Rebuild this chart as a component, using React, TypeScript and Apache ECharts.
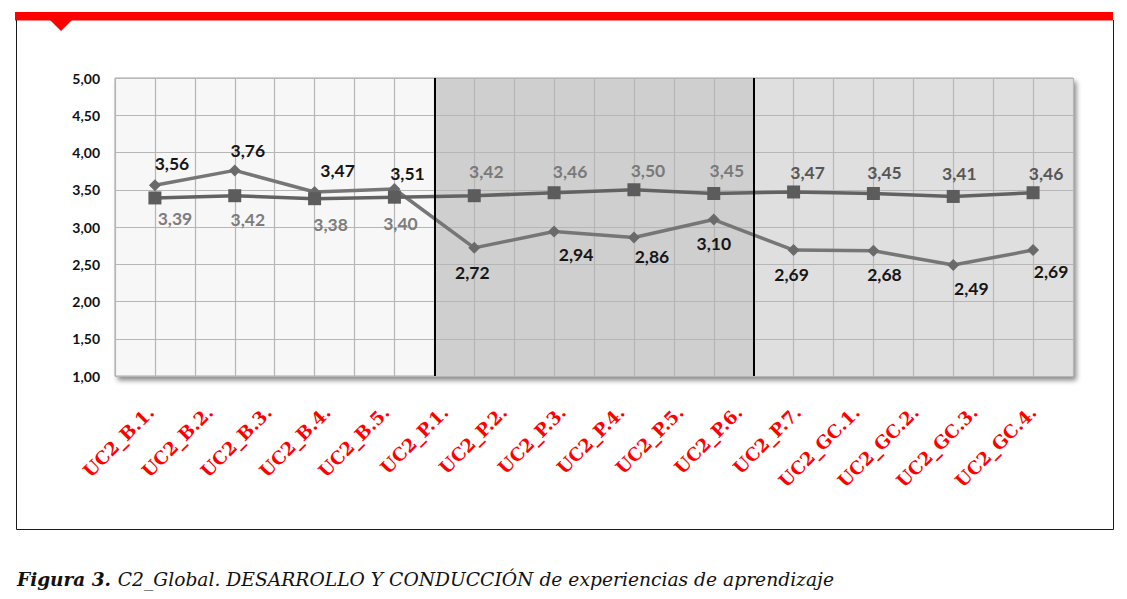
import React, { useEffect, useRef } from 'react';
import * as echarts from 'echarts';

// ---- data ----
const pointIds = ['1', '2', '3', '4', '5', '6', '7', '8', '9', '10', '11', '12'];
const xLabels = [
  'UC2_B.1.', 'UC2_B.2.', 'UC2_B.3.', 'UC2_B.4.', 'UC2_B.5.',
  'UC2_P.1.', 'UC2_P.2.', 'UC2_P.3.', 'UC2_P.4.', 'UC2_P.5.', 'UC2_P.6.', 'UC2_P.7.',
  'UC2_GC.1.', 'UC2_GC.2.', 'UC2_GC.3.', 'UC2_GC.4.',
];
const diamondValues = [3.56, 3.76, 3.47, 3.51, 2.72, 2.94, 2.86, 3.1, 2.69, 2.68, 2.49, 2.69];
const squareValues = [3.39, 3.42, 3.38, 3.4, 3.42, 3.46, 3.5, 3.45, 3.47, 3.45, 3.41, 3.46];
const yMin = 1;
const yMax = 5;
const yStep = 0.5;
const sectionBounds = [0, 4, 8, 12];
const caption = 'C2_Global. DESARROLLO Y CONDUCCIÓN de experiencias de aprendizaje';

// ---- layout / style ----
const sectionColors = ['#f7f7f7', '#cfcfcf', '#dfdfdf'];
const diamondLabelOffset = [
  [17, -22], [13, -20], [23, -21], [13, -16], [-2, 25], [22, 23],
  [18, 19], [0, 24], [-2, 24], [11, 24], [18, 24], [18, 21],
];
const squareLabelOffset = [
  [20, 21], [13, 24], [16, 26], [6, 26], [12, -24], [16, -21],
  [14, -19], [13, -23], [14, -19], [11, -21], [6, -23], [13, -19],
];
const squareLabelColor = ['#7d7d7d', '#7d7d7d', '#7d7d7d', '#7d7d7d', '#7a7a7a', '#7a7a7a',
  '#7a7a7a', '#7a7a7a', '#575757', '#575757', '#575757', '#575757'];

const fmt = (v: number) => v.toFixed(2).replace('.', ',');

export default function App() {
  const ref = useRef<HTMLDivElement>(null);
  useEffect(() => {
    if (!ref.current) return;
    const chart = echarts.init(ref.current, undefined, { renderer: 'svg' });
    const labelFont = { fontFamily: 'Lato', fontWeight: 'bold' as const, fontSize: 17.5 };
    const option: any = {
      animation: false,
      backgroundColor: '#ffffff',
      grid: [
        {
          left: 115, right: 54, top: 78, bottom: 223,
          show: true,
          backgroundColor: sectionColors[0],
          borderColor: '#a8a8a8',
          borderWidth: 1,
          shadowColor: 'rgba(0,0,0,0.45)',
          shadowBlur: 5,
          shadowOffsetX: 3,
          shadowOffsetY: 4,
        },
        { left: 121.5, right: 64.5, top: 78, bottom: 223, show: false },
      ],
      xAxis: [
        {
          type: 'category', gridIndex: 0, data: pointIds, boundaryGap: true,
          axisLine: { show: false }, axisTick: { show: false }, axisLabel: { show: false },
          splitLine: { show: false },
        },
        {
          type: 'category', gridIndex: 1, data: xLabels, boundaryGap: true,
          axisLine: { show: false }, axisTick: { show: false },
          axisLabel: {
            interval: 0, rotate: 45, margin: 33,
            color: '#ff0000', fontFamily: 'DejaVu Serif', fontWeight: 'bold', fontSize: 18,
          },
          splitLine: { show: false },
        },
        {
          type: 'value', gridIndex: 0, min: 0, max: pointIds.length, interval: 0.5, z: 1.5,
          axisLine: { show: false }, axisTick: { show: false }, axisLabel: { show: false },
          splitLine: { show: true, lineStyle: { color: '#b6b6b6', width: 1.2 } },
        },
      ],
      yAxis: [
        {
          type: 'value', gridIndex: 0, min: yMin, max: yMax, interval: yStep, z: 1.5,
          axisLine: { show: false }, axisTick: { show: false },
          axisLabel: {
            formatter: (v: number) => fmt(v), margin: 15, color: '#111',
            fontFamily: 'Lato', fontWeight: 'bold', fontSize: 14,
          },
          splitLine: { show: true, lineStyle: { color: '#b6b6b6', width: 1.2 } },
        },
        { type: 'value', gridIndex: 1, show: false, min: yMin, max: yMax },
      ],
      series: [
        {
          type: 'line', xAxisIndex: 2, yAxisIndex: 0, data: [], silent: true,
          markArea: {
            silent: true,
            data: sectionBounds.slice(1).map((b, i) => [
              { xAxis: sectionBounds[i], yAxis: yMin, itemStyle: { color: sectionColors[i] } },
              { xAxis: b, yAxis: yMax },
            ]).slice(1),
          },
          markLine: {
            silent: true, symbol: 'none', label: { show: false },
            lineStyle: { color: '#000', width: 2, type: 'solid' },
            data: sectionBounds.slice(1, -1).map((b) => ({ xAxis: b })),
          },
        },
        {
          name: 'diamond', type: 'line', xAxisIndex: 0, yAxisIndex: 0,
          symbol: 'diamond', symbolSize: 12, z: 3,
          lineStyle: { color: '#767676', width: 3.5 },
          itemStyle: { color: '#6a6a6a' },
          data: diamondValues.map((v, i) => ({
            value: v,
            label: { offset: diamondLabelOffset[i] },
          })),
          label: {
            show: true, position: 'inside', align: 'center', verticalAlign: 'middle',
            color: '#161616', ...labelFont, formatter: (p: any) => fmt(p.value),
          },
        },
        {
          name: 'square', type: 'line', xAxisIndex: 0, yAxisIndex: 0,
          symbol: 'rect', symbolSize: 13, z: 4,
          lineStyle: { color: '#626262', width: 3.5 },
          itemStyle: { color: '#5c5c5c' },
          data: squareValues.map((v, i) => ({
            value: v,
            label: { offset: squareLabelOffset[i], color: squareLabelColor[i] },
          })),
          label: {
            show: true, position: 'inside', align: 'center', verticalAlign: 'middle',
            ...labelFont, formatter: (p: any) => fmt(p.value),
          },
        },
      ],
      graphic: [
        { type: 'rect', shape: { x: 15, y: 12, width: 1098, height: 8.5 }, style: { fill: '#ff0000' } },
        { type: 'polygon', shape: { points: [[50, 20], [72, 20], [61, 31]] }, style: { fill: '#ff0000' } },
        {
          type: 'polyline',
          shape: { points: [[16.5, 20], [16.5, 529.5], [1113.5, 529.5], [1113.5, 20]] },
          style: { stroke: '#1a1a1a', lineWidth: 1, fill: 'none' },
        },
        {
          type: 'text', x: 17, y: 579,
          style: {
            text: '{b|Figura 3.}  {i|' + caption + '}',
            verticalAlign: 'middle',
            rich: {
              b: { fontFamily: 'DejaVu Serif', fontStyle: 'italic', fontWeight: 'bold', fontSize: 18.5, fill: '#111' },
              i: { fontFamily: 'DejaVu Serif', fontStyle: 'italic', fontSize: 18.7, fill: '#111' },
            },
          },
        },
      ],
    };
    chart.setOption(option);
    return () => chart.dispose();
  }, []);
  return (
    <div
      ref={ref}
      style={{ position: 'absolute', left: 0, top: 0, width: 1127, height: 599, background: '#fff' }}
    />
  );
}
